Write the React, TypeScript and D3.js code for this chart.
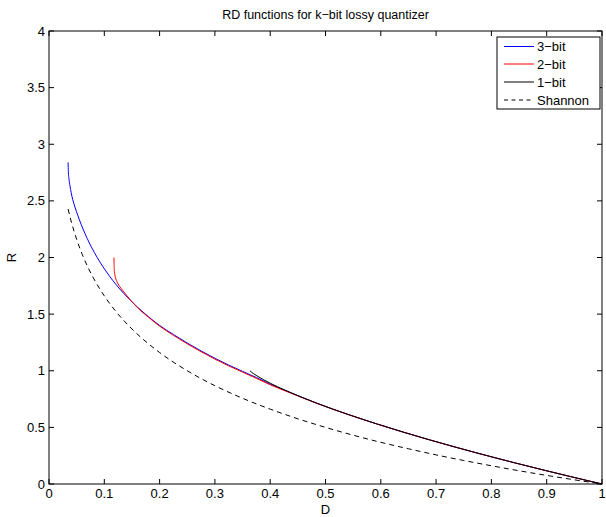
import React from "react";
import * as d3 from "d3";

const dTicks = [0, 0.1, 0.2, 0.3, 0.4, 0.5, 0.6, 0.7, 0.8, 0.9, 1];
const rTicks = [0, 0.5, 1, 1.5, 2, 2.5, 3, 3.5, 4];
const seriesNames = ["3\u2212bit", "2\u2212bit", "1\u2212bit", "Shannon"];
const seriesColors = ["#0000ff", "#ff0000", "#000000", "#000000"];

const bit3D = [0.0345, 0.035, 0.036, 0.038, 0.040, 0.043, 0.047, 0.052, 0.058, 0.065, 0.073, 0.082, 0.092, 0.103, 0.115, 0.128, 0.142, 0.160, 0.180, 0.200, 0.225, 0.250, 0.275, 0.300, 0.325, 0.350, 0.375, 0.400, 0.4375, 0.4843, 0.540, 0.5926, 0.6419, 0.688, 0.731, 0.7708, 0.8074, 0.8408, 0.8981, 0.9427, 0.9745, 0.9936, 1.0];
const bit3R = [2.84, 2.76, 2.70, 2.63, 2.575, 2.51, 2.445, 2.373, 2.294, 2.212, 2.128, 2.044, 1.961, 1.88, 1.799, 1.722, 1.648, 1.562, 1.477, 1.40, 1.32, 1.245, 1.175, 1.11, 1.05, 0.995, 0.94, 0.882, 0.806, 0.7136, 0.6157, 0.531, 0.4564, 0.3902, 0.331, 0.2781, 0.2308, 0.1887, 0.1187, 0.0659, 0.029, 0.0072, 0];

const bit2D = [0.1175, 0.1176, 0.1178, 0.118, 0.119, 0.121, 0.124, 0.128, 0.134, 0.140, 0.146, 0.160, 0.180, 0.200, 0.225, 0.250, 0.275, 0.300, 0.325, 0.350, 0.375, 0.400, 0.4375, 0.4843, 0.540, 0.5926, 0.6419, 0.688, 0.731, 0.7708, 0.8074, 0.8408, 0.8981, 0.9427, 0.9745, 0.9936, 1.0];
const bit2R = [2.0, 1.96, 1.92, 1.89, 1.85, 1.81, 1.775, 1.742, 1.705, 1.668, 1.632, 1.557, 1.472, 1.394, 1.313, 1.238, 1.168, 1.103, 1.043, 0.988, 0.933, 0.876, 0.802, 0.7116, 0.6147, 0.530, 0.4556, 0.3896, 0.3305, 0.2778, 0.2305, 0.1885, 0.1186, 0.0658, 0.029, 0.0072, 0];

const bit1D = [0.3634, 0.3659, 0.3697, 0.3761, 0.3886, 0.4133, 0.4375, 0.4843, 0.540, 0.5926, 0.6419, 0.688, 0.731, 0.7708, 0.8074, 0.8408, 0.8981, 0.9427, 0.9745, 0.9936, 1.0];
const bit1R = [1.0, 0.9886, 0.9748, 0.9546, 0.9192, 0.8586, 0.8056, 0.7136, 0.6157, 0.531, 0.4564, 0.3902, 0.331, 0.2781, 0.2308, 0.1887, 0.1187, 0.0659, 0.029, 0.0072, 0];

const shannonD = [0.0345, 0.04, 0.05, 0.06, 0.07, 0.08, 0.1, 0.12, 0.15, 0.2, 0.25, 0.3, 0.35, 0.4, 0.45, 0.5, 0.55, 0.6, 0.65, 0.7, 0.75, 0.8, 0.85, 0.9, 0.95, 1.0];
const shannonR = [2.428, 2.322, 2.161, 2.029, 1.918, 1.822, 1.661, 1.529, 1.369, 1.161, 1.0, 0.868, 0.757, 0.661, 0.576, 0.5, 0.431, 0.368, 0.311, 0.257, 0.2075, 0.161, 0.117, 0.076, 0.037, 0];

const W = 606, H = 517;
const L = 49, R = 602, T = 31, B = 484;
const FONT = "'Liberation Sans', Arial, Helvetica, sans-serif";

export default function App() {
  const x = d3.scaleLinear().domain([0, 1]).range([L, R]);
  const y = d3.scaleLinear().domain([0, 4]).range([B, T]);
  const line = d3
    .line<[number, number]>()
    .x((d) => x(d[0]))
    .y((d) => y(d[1]))
    .curve(d3.curveMonotoneX);
  const zip = (a: number[], b: number[]) => a.map((v, i) => [v, b[i]] as [number, number]);
  const series = [
    { d: zip(bit3D, bit3R), c: seriesColors[0] },
    { d: zip(bit2D, bit2R), c: seriesColors[1] },
    { d: zip(bit1D, bit1R), c: seriesColors[2] },
  ];
  const shannon = zip(shannonD, shannonR);
  const tickLen = 5;
  const fs = 13;
  const lgX = 497, lgY = 37, lgW = 103, lgH = 72;
  const rowY = [46.5, 64, 82, 100];

  return (
    <svg
      width={W}
      height={H}
      style={{ position: "absolute", left: 0, top: 0, background: "#fff" }}
      fontFamily={FONT}
    >
      <rect x={0} y={0} width={W} height={H} fill="#fff" />
      <text x={(L + R) / 2} y={19} fontSize={12.5} textAnchor="middle">
        RD functions for k{"\u2212"}bit lossy quantizer
      </text>
      {series.map((s, i) => (
        <path key={i} d={line(s.d) || ""} fill="none" stroke={s.c} strokeWidth={1} />
      ))}
      <path d={line(shannon) || ""} fill="none" stroke="#000" strokeWidth={1} strokeDasharray="5,4" />
      <rect x={L} y={T} width={R - L} height={B - T} fill="none" stroke="#000" strokeWidth={1} />
      {dTicks.map((t, i) => (
        <g key={"xt" + i}>
          <line x1={x(t)} x2={x(t)} y1={B} y2={B - tickLen} stroke="#000" />
          <line x1={x(t)} x2={x(t)} y1={T} y2={T + tickLen} stroke="#000" />
          <text x={x(t)} y={B + 14} fontSize={fs} textAnchor="middle">
            {String(t)}
          </text>
        </g>
      ))}
      {rTicks.map((t, i) => (
        <g key={"yt" + i}>
          <line x1={L} x2={L + tickLen} y1={y(t)} y2={y(t)} stroke="#000" />
          <line x1={R} x2={R - tickLen} y1={y(t)} y2={y(t)} stroke="#000" />
          <text x={L - 4} y={y(t) + 4.5} fontSize={fs} textAnchor="end">
            {String(t)}
          </text>
        </g>
      ))}
      <text x={(L + R) / 2} y={514} fontSize={fs} textAnchor="middle">
        D
      </text>
      <text x={16} y={(T + B) / 2} fontSize={fs} textAnchor="middle" transform={`rotate(-90 16 ${(T + B) / 2})`}>
        R
      </text>
      <rect x={lgX} y={lgY} width={lgW} height={lgH} fill="#fff" stroke="#000" strokeWidth={1} />
      {seriesNames.map((n, i) => (
        <g key={"lg" + i}>
          <line
            x1={504}
            x2={534}
            y1={rowY[i]}
            y2={rowY[i]}
            stroke={seriesColors[i]}
            strokeWidth={1}
            strokeDasharray={i === 3 ? "4,3.5" : undefined}
          />
          <text x={537} y={rowY[i] + 4.5} fontSize={fs}>
            {n}
          </text>
        </g>
      ))}
    </svg>
  );
}
